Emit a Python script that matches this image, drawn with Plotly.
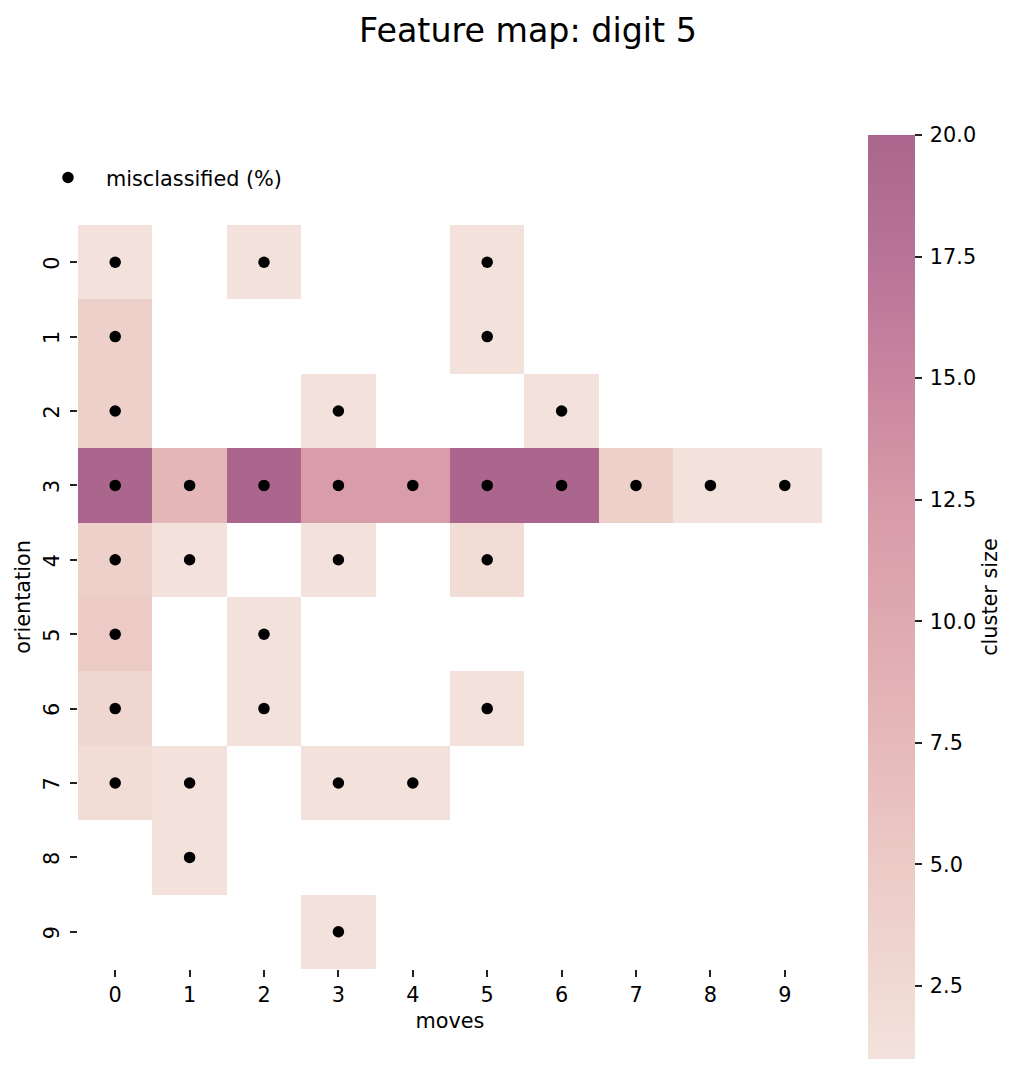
import plotly.graph_objects as go

moves = list(range(10))
orientation = list(range(10))
N = None
cluster_size = [
    [1, N, 1, N, N, 1, N, N, N, N],
    [4, N, N, N, N, 1, N, N, N, N],
    [4, N, N, 1, N, N, 1, N, N, N],
    [20, 8, 20, 12, 12, 20, 20, 4, 1, 1],
    [4, 1, N, 1, N, 2, N, N, N, N],
    [5, N, 1, N, N, N, N, N, N, N],
    [3, N, 1, N, N, 1, N, N, N, N],
    [2, 1, N, 1, 1, N, N, N, N, N],
    [N, 1, N, N, N, N, N, N, N, N],
    [N, N, N, 1, N, N, N, N, N, N],
]
colorscale = [
    [0.0, "#F3E2DC"], [0.079, "#F0D9D3"], [0.211, "#ECCAC6"], [0.342, "#E6B9BA"],
    [0.474, "#DFA9B0"], [0.605, "#D79AA8"], [0.737, "#C9859F"], [0.868, "#B87398"], [1.0, "#AA668C"],
]
colorbar_tick_start = 2.5
colorbar_tick_step = 2.5
OFF = 8  # page margin
W, H = 1018 - 2 * OFF, 1074 - 2 * OFF
FONT = "DejaVu Sans"
INK = "#000000"
TICK = "#222222"


def fx(px):
    return (px - OFF) / W


def fy(px):
    return 1 - (px - OFF) / H


pts_x = [moves[c] for r in orientation for c in moves if cluster_size[r][c] is not None]
pts_y = [r for r in orientation for c in moves if cluster_size[r][c] is not None]

fig = go.Figure()
fig.add_trace(go.Heatmap(
    x=moves, y=orientation, z=cluster_size, zmin=1, zmax=20, colorscale=colorscale,
    hoverongaps=False, showlegend=False,
    colorbar=dict(
        x=fx(868), xanchor="left", y=fy(135), yanchor="top", len=924 / H, lenmode="fraction",
        thickness=47, thicknessmode="pixels", outlinewidth=0, xpad=0, ypad=0,
        tickmode="linear", tick0=colorbar_tick_start, dtick=colorbar_tick_step,
        tickformat=".1f", tickprefix="\u2009",
        ticks="outside", ticklen=7, tickwidth=1.7, tickcolor=TICK,
        tickfont=dict(family=FONT, size=20.8, color=INK),
        title=dict(text="cluster size", side="right", font=dict(family=FONT, size=20.8, color=INK)),
    ),
))
fig.add_trace(go.Scatter(
    x=pts_x, y=pts_y, mode="markers", name="misclassified (%)",
    marker=dict(color="black", size=11.5), showlegend=True,
))
fig.update_layout(
    width=W, height=H, autosize=False, margin=dict(l=0, r=0, t=0, b=0),
    paper_bgcolor="white", plot_bgcolor="white",
    font=dict(family=FONT, size=20.8, color=INK),
    title=dict(text="Feature map: digit 5", x=fx(528), xanchor="center", y=fy(30), yanchor="middle",
               font=dict(family=FONT, size=33.3, color=INK)),
    xaxis=dict(domain=[fx(78), fx(822)], range=[-0.5, 9.5], tickvals=moves, showgrid=False, zeroline=False,
               showline=False, ticks="outside", ticklen=7, tickwidth=1.7, tickcolor=TICK,
               title=dict(text="moves", standoff=7, font=dict(family=FONT, size=20.8))),
    yaxis=dict(domain=[fy(969), fy(225)], range=[9.5, -0.5], tickvals=orientation, tickangle=-90,
               ticklabelstandoff=3, ticklabelshift=-4,
               showgrid=False, zeroline=False, showline=False, ticks="outside", ticklen=7, tickwidth=1.7,
               tickcolor=TICK, title=dict(text="orientation", standoff=3, font=dict(family=FONT, size=20.8))),
    legend=dict(x=fx(30), xanchor="left", y=fy(178), yanchor="middle", bgcolor="rgba(0,0,0,0)",
                font=dict(family=FONT, size=20.8), itemwidth=66),
)
fig.write_html("out.html")
